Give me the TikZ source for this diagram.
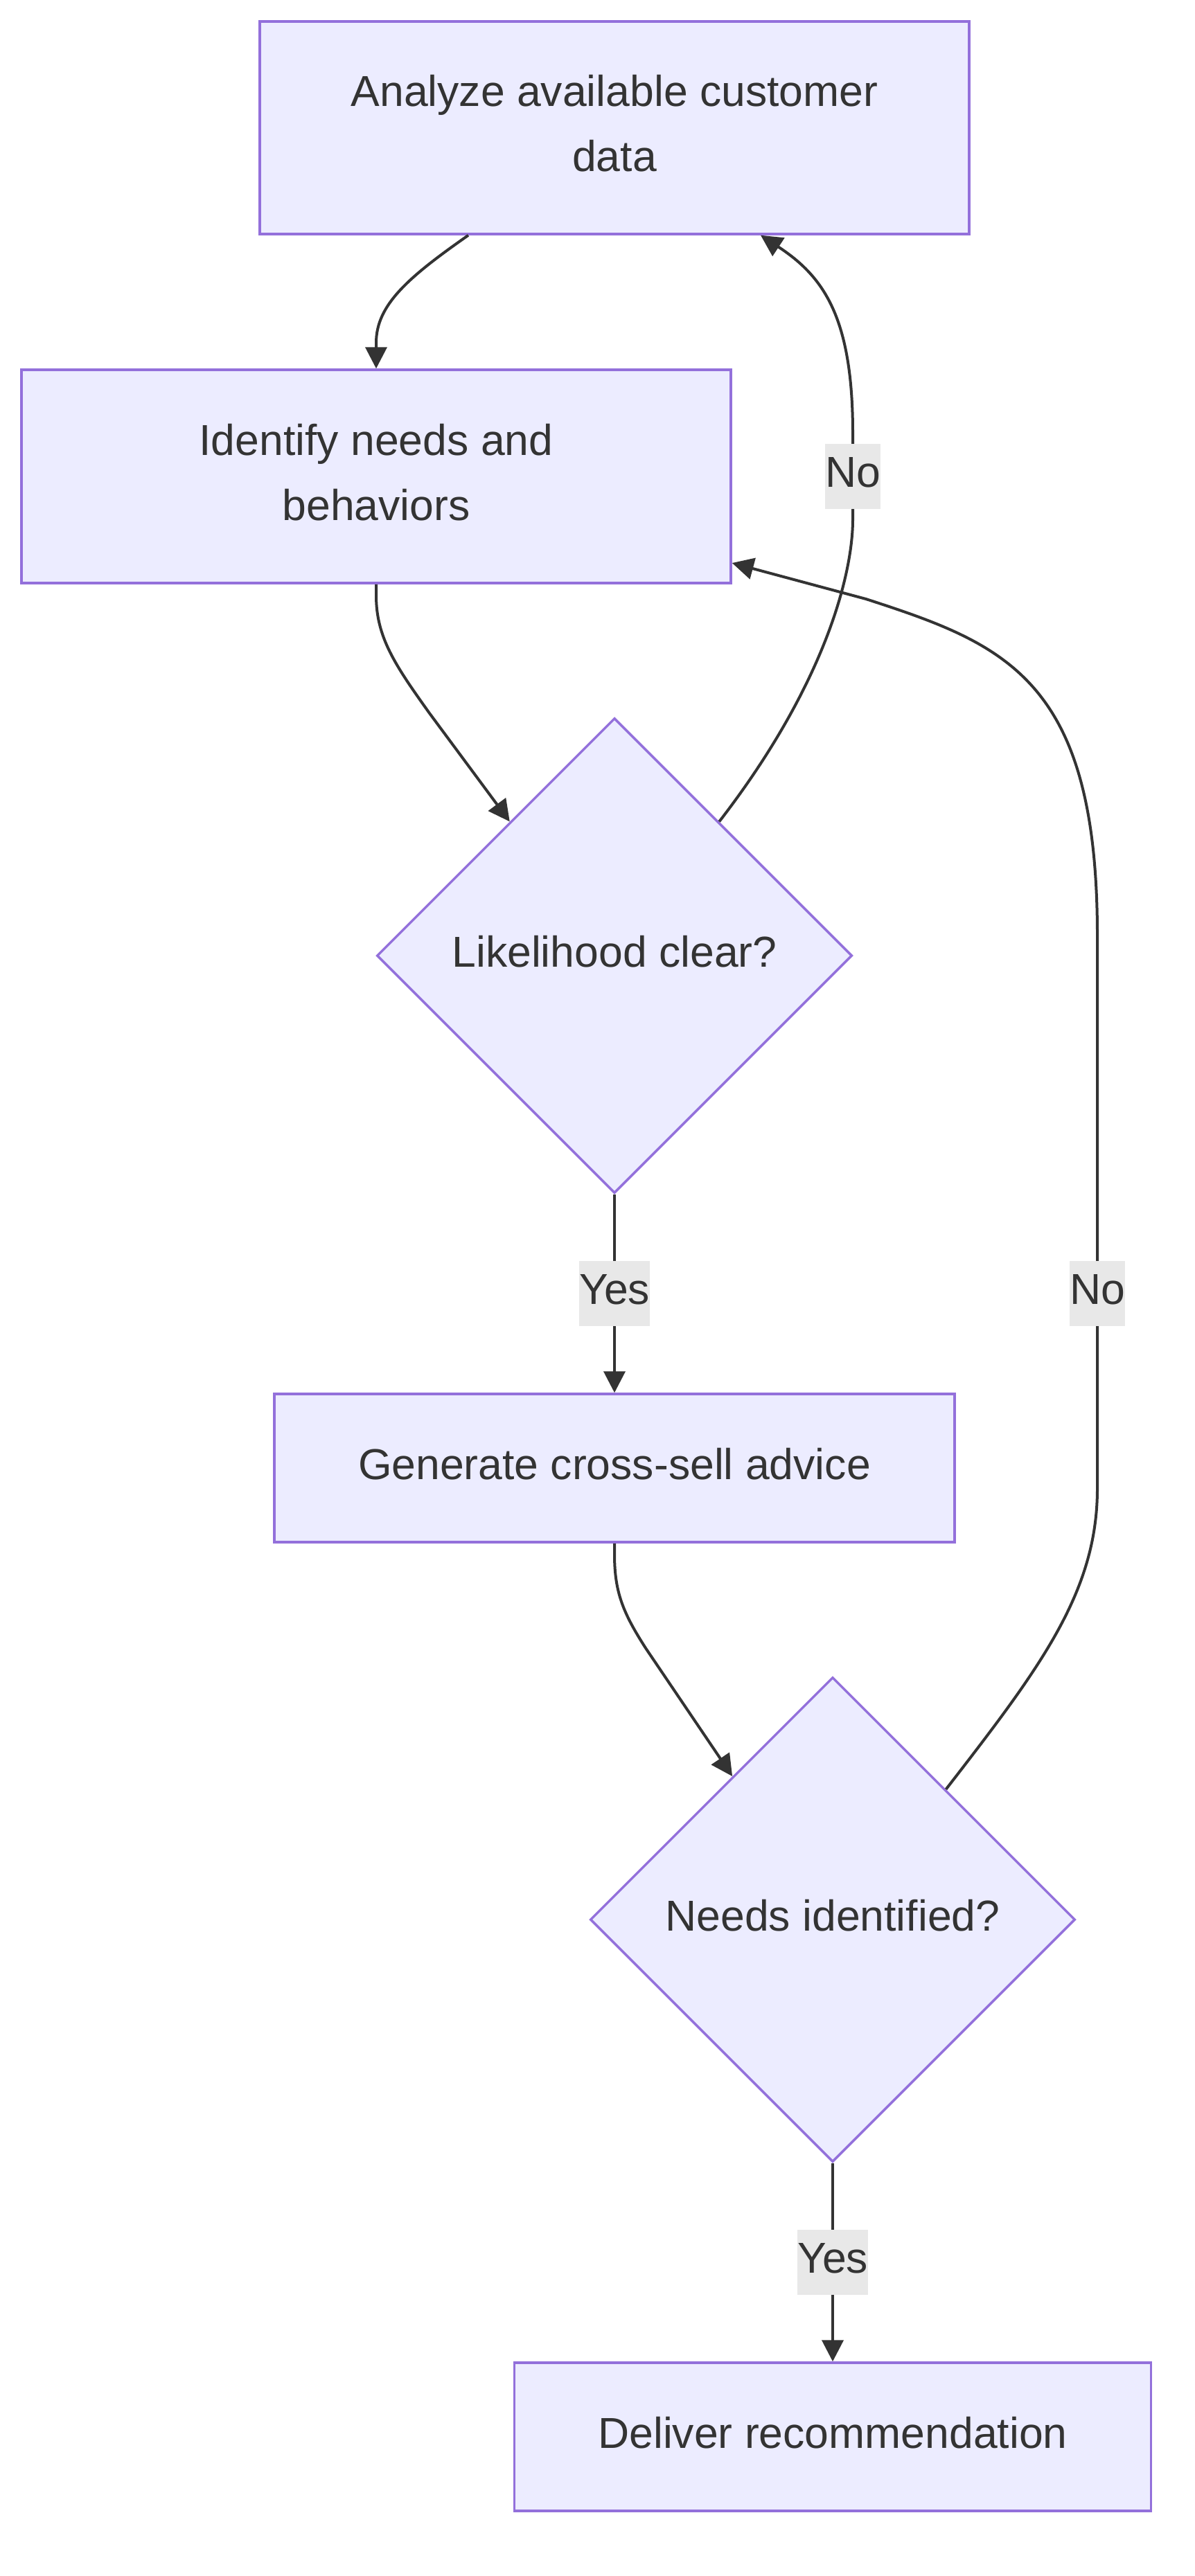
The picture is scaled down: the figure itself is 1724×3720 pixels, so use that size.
\documentclass[tikz,border=0pt]{standalone}
\usepackage{fontspec}
\setmainfont{Liberation Sans}
\usetikzlibrary{arrows.meta,shapes.geometric}
\definecolor{nodefill}{HTML}{ECECFF}
\definecolor{nodeline}{HTML}{9370DB}
\definecolor{txt}{HTML}{333333}
\definecolor{lblbg}{HTML}{E8E8E8}
\begin{document}
\begin{tikzpicture}[x=1pt,y=-1pt,
  box/.style={draw=nodeline, fill=nodefill, line width=3.5pt, inner sep=0pt, text=txt, align=center, text depth=13pt, font=\fontsize{62.5}{94}\selectfont},
  dec/.style={diamond, aspect=1, draw=nodeline, fill=nodefill, line width=3.5pt, inner sep=0pt, text=txt, text depth=13pt, font=\fontsize{62.5}{94}\selectfont},
  lbl/.style={fill=lblbg, inner sep=0pt, minimum height=94pt, text=txt, text depth=13pt, font=\fontsize{62.5}{94}\selectfont},
  conn/.style={draw=txt, line width=4pt, -{Triangle[length=31pt,width=31pt]}}]
\useasboundingbox (0,0) rectangle (1724,3720);
\fill[white] (0,0) rectangle (1724,3720);

\node[box, minimum width=1024pt, minimum height=307pt] (A) at (887,184.5) {Analyze available customer\\data};
\node[box, minimum width=1024pt, minimum height=308pt] (B) at (543,688) {Identify needs and\\behaviors};
\node[dec, minimum width=686pt, minimum height=686pt] (C) at (887,1380) {Likelihood clear?};
\node[box, minimum width=982pt, minimum height=214pt] (D) at (887,2120) {Generate cross-sell advice};
\node[dec, minimum width=700pt, minimum height=700pt] (E) at (1202,2772) {Needs identified?};
\node[box, minimum width=919pt, minimum height=214pt] (F) at (1202,3519) {Deliver recommendation};

\draw[conn] ([xshift=-211pt]A.south) .. controls (590,400) and (543,440) .. (543,495) -- (B.north);
\draw[conn] (B.south) -- (543,860) .. controls (543,920) and (570,960) .. (620,1030) -- (C.128);
\draw[conn] (C.south) -- node[lbl]{Yes} (D.north);
\draw[conn] (C.52) .. controls (1190,990) and (1231,830) .. (1231,750) -- node[lbl]{No} (1231,626) .. controls (1231,460) and (1190,400) .. ([xshift=211pt]A.south);
\draw[conn] (D.south) -- (887,2245) .. controls (887,2300) and (900,2330) .. (932,2380) -- (E.125);
\draw[conn] (E.49) .. controls (1500,2410) and (1584,2300) .. (1584,2150) -- node[lbl]{No} (1584,1586) -- (1584,1350) .. controls (1584,980) and (1450,930) .. (1250,865) -- ([yshift=-125pt]B.east);
\draw[conn] (E.south) -- node[lbl]{Yes} (F.north);
\end{tikzpicture}
\end{document}
